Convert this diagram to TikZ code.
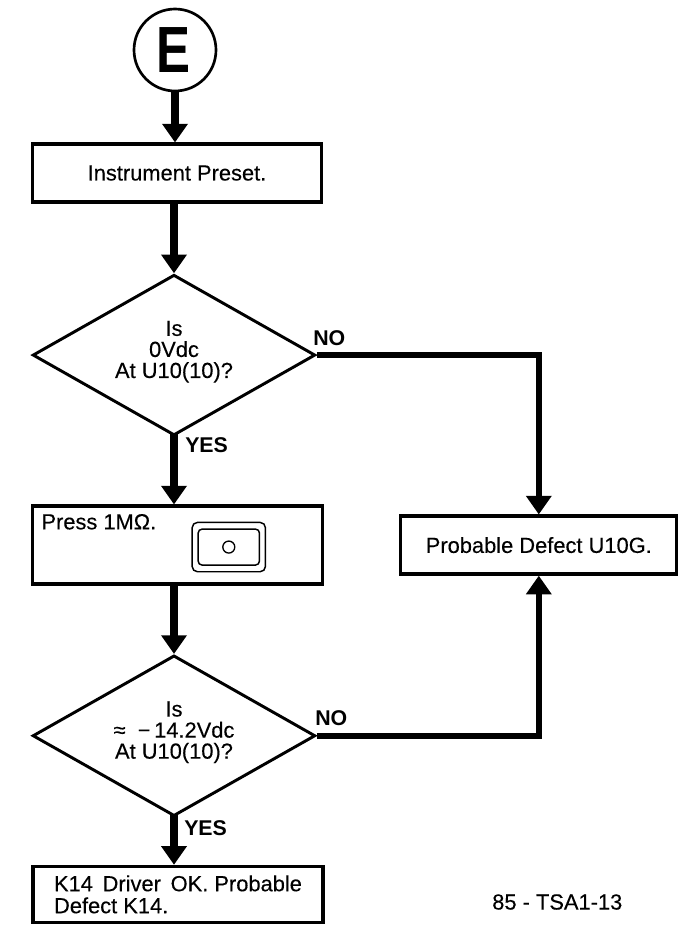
\documentclass[tikz,border=0pt]{standalone}
\usepackage{fontspec}
\setmainfont[FakeBold=0.25]{Liberation Sans}
\newfontfamily\tagfont{Liberation Sans Bold}
\usetikzlibrary{arrows.meta, positioning, shapes.geometric}

\begin{document}
\begin{tikzpicture}[x=0.75pt, y=0.75pt, font=\fontsize{16.4pt}{16.5pt}\selectfont,
    flowbox/.style={rectangle, draw, line width=2.4pt, inner sep=0pt},
    decision/.style={diamond, aspect=1.75, draw, line width=2.2pt, inner sep=0pt, align=center, minimum width=212pt, minimum height=120.5pt, text depth=8.5pt, font=\fontsize{16.4pt}{15.8pt}\selectfont},
    flowarrow/.style={line width=6pt, shorten <=-2pt, -{Triangle[length=14pt, width=18.5pt]}},
    sidearrow/.style={line width=4.6pt, -{Triangle[length=14pt, width=18.5pt]}},
    tag/.style={inner sep=0pt, font=\fontsize{16pt}{16pt}\tagfont}]
    \useasboundingbox (0,0) rectangle (687,-925);

    % Nodes
    \node[circle, draw, line width=2pt, minimum size=61.5pt, inner sep=0pt] (start) at (175,-50)
        {\hspace{-2pt}\fontsize{49pt}{49pt}\tagfont\scalebox{0.78}[1]{E}};
    \node[flowbox, below of=start, node distance=92.3pt, xshift=1.5pt, minimum width=217pt, minimum height=43.5pt] (preset) {Instrument Preset.};
    \node[decision, below of=start, node distance=228.8pt, xshift=-0.75pt] (check1) {Is\\0Vdc\\At U10(10)?};
    \node[flowbox, below of=check1, node distance=142.5pt, xshift=2.6pt, minimum width=218pt, minimum height=58.5pt] (press) {};
    \node[decision, below of=press, node distance=143pt, xshift=-2.6pt] (check2) {Is\\≈\ \ −\,14.2Vdc\\At U10(10)?};
    \node[flowbox, below of=check2, node distance=119pt, xshift=3pt, minimum width=217.5pt, minimum height=42pt, align=left] (driver) {K14\, Driver\, OK. Probable\\Defect K14.};
    \node[flowbox, right of=press, node distance=271pt, minimum width=207pt, minimum height=43.5pt] (defect) {Probable Defect U10G.};

    % Press panel
    \node[anchor=north west, inner sep=0pt, xshift=8pt, yshift=-7pt] (presstext) at (press.north west) {Press 1MΩ.};
    \node[rectangle, draw, rounded corners=4pt, line width=1.1pt, minimum width=55pt, minimum height=37pt, right of=press, node distance=38.5pt, yshift=-1.5pt] (button) {};
    \node[rectangle, draw, rounded corners=3pt, line width=1.1pt, minimum width=46pt, minimum height=27pt] (buttoncap) at (button) {};
    \node[circle, draw, line width=1pt, minimum size=9pt, inner sep=0pt] (lamp) at (button) {};

    % Labels
    \node[tag, anchor=west] (no1) at (313,-338) {NO};
    \node[tag, anchor=west] (no2) at (315,-718) {NO};
    \node[tag, anchor=west] (yes1) at (185,-445) {YES};
    \node[tag, anchor=west] (yes2) at (184,-828) {YES};
    \node[anchor=west, inner sep=0pt] (figref) at (492,-902) {85 - TSA1-13};

    % Edges
    \draw[flowarrow] (start) -- (start |- preset.north);
    \draw[flowarrow] (preset.south -| check1.north) -- (check1.north);
    \draw[flowarrow] (check1.south) -- (check1.south |- press.north);
    \draw[flowarrow] (press.south -| check2.north) -- (check2.north);
    \draw[flowarrow] (check2.south) -- (check2.south |- driver.north);
    \draw[sidearrow] (check1.east) -| (defect.north);
    \draw[sidearrow] (check2.east) -| (defect.south);
\end{tikzpicture}
\end{document}
